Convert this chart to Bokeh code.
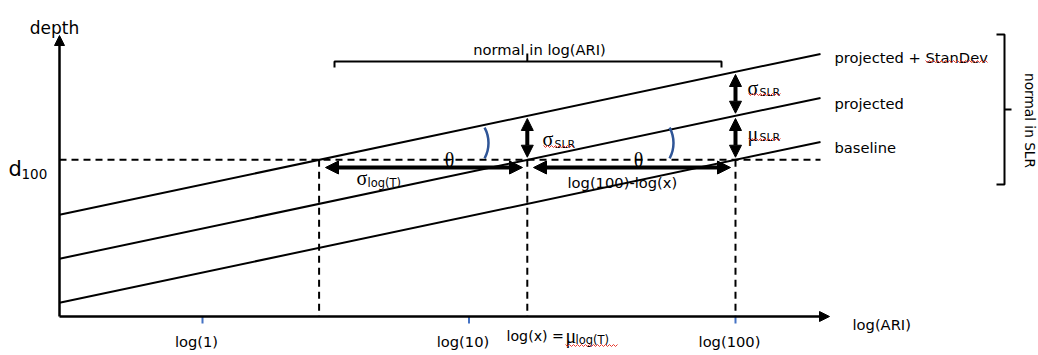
import math
import numpy as np
from bokeh.plotting import figure
from bokeh.models import Range1d, Arrow, NormalHead
from bokeh.core.properties import value
from bokeh.embed import file_html
from bokeh.resources import INLINE

# ---------------- diagram quantities (chart units) ----------------
ARI_TICKS = [1, 10, 100]
TICK_LABELS = ["log(1)", "log(10)", "log(100)"]
LINE_NAMES = ["baseline", "projected", "projected + StanDev"]
D100 = 3.56        # depth of the 100-yr ARI event (baseline curve)
SLOPE = 1.28       # depth gained per decade of ARI
MU_SLR = 1.0       # mean sea-level rise
SIGMA_SLR = 1.0    # standard deviation of sea-level rise
LINE_SHIFTS = [0.0, MU_SLR, MU_SLR + SIGMA_SLR]

# derived quantities
L100 = math.log10(100)
MU_LOGT = L100 - MU_SLR / SLOPE          # log(x) = mu_log(T)
SIG_LOGT = SIGMA_SLR / SLOPE             # sigma_log(T)
L_SIG = MU_LOGT - SIG_LOGT

# ---------------- canvas / ranges ----------------
W, H = 1038, 355
X0, X1 = -0.758, 3.137
Y0, Y1 = -0.886, 7.182


def XP(px):
    return X0 + np.asarray(px, dtype=float) * (X1 - X0) / W


def YP(py):
    return Y1 - np.asarray(py, dtype=float) * (Y1 - Y0) / H


FONT = "DejaVu Sans"
GREEK = "Liberation Serif"
BASE = "14.7px"
GSIZE = "20px"

p = figure(width=W, height=H, x_range=Range1d(X0, X1), y_range=Range1d(Y0, Y1),
           output_backend="svg", toolbar_location=None, x_axis_type=None,
           y_axis_type=None, min_border=0, min_border_left=0, min_border_right=0,
           min_border_top=0, min_border_bottom=0)
p.grid.visible = False
p.outline_line_color = None
p.background_fill_color = "white"
p.border_fill_color = "white"

XA = float(XP(59))     # origin of the hand-drawn axes
XE = float(XP(820))    # right end of the sloped lines
XT = float(XP(829))    # x-axis arrow tip
YT = float(YP(35))     # y-axis arrow tip

# ---------------- dashed reference lines ----------------
p.segment(x0=[XA], y0=[D100], x1=[XE], y1=[D100], line_color="black",
          line_width=2, line_dash="7 5")
vx = [L_SIG, MU_LOGT, L100]
p.segment(x0=vx, y0=[D100] * 3, x1=vx, y1=[0] * 3, line_color="black",
          line_width=2, line_dash="7 5")

# ---------------- sloped depth lines ----------------
xs = np.array([XA, XE])
for shift in LINE_SHIFTS:
    ys = D100 + SLOPE * (xs - L100) + shift
    p.line(xs, ys, line_color="black", line_width=2)

# ---------------- axes ----------------
p.add_layout(Arrow(end=NormalHead(size=10, fill_color="black", line_color="black"),
                   x_start=XA, y_start=0, x_end=XT, y_end=0,
                   line_color="black", line_width=2.5))
p.add_layout(Arrow(end=NormalHead(size=10, fill_color="black", line_color="black"),
                   x_start=XA, y_start=0, x_end=XA, y_end=YT,
                   line_color="black", line_width=2.5))

tick_x = [math.log10(a) for a in ARI_TICKS]
p.segment(x0=tick_x, y0=[0] * 3, x1=tick_x, y1=[float(YP(323))] * 3,
          line_color="#4472C4", line_width=2)


def darrow(x1, y1, x2, y2, size=13, lw=4):
    p.add_layout(Arrow(start=NormalHead(size=size, fill_color="black", line_color="black"),
                       end=NormalHead(size=size, fill_color="black", line_color="black"),
                       x_start=x1, y_start=y1, x_end=x2, y_end=y2,
                       line_color="black", line_width=lw))


# horizontal double arrows (sigma_log(T) and log(100)-log(x))
ya = float(YP(167))
darrow(float(XP(325)), ya, float(XP(522)), ya)
darrow(float(XP(533)), ya, float(XP(730)), ya)

# vertical double arrows between the sloped lines
g = 0.06
darrow(MU_LOGT, D100 + SIGMA_SLR - g, MU_LOGT, D100 + g, size=12)
darrow(L100, D100 + MU_SLR + SIGMA_SLR - g, L100, D100 + MU_SLR + g, size=12)
darrow(L100, D100 + MU_SLR - g, L100, D100 + g, size=12)

# angle arcs
p.arc(x=list(XP([456, 641])), y=list(YP([142.5, 142.5])), radius=32,
      radius_units="screen", start_angle=-0.5, end_angle=0.5,
      line_color="#2F5597", line_width=2.5)

# top brace: normal in log(ARI)
bx0, bx1 = float(XP(334)), float(XP(721))
by, bh, bt = float(YP(61)), float(YP(67)), float(YP(53))
p.line([bx0, bx0, bx1, bx1], [bh, by, by, bh], line_color="black", line_width=2)
p.line([MU_LOGT, MU_LOGT], [by, bt], line_color="black", line_width=2)

# right brace: normal in SLR
rx, rh, rt = float(XP(1004)), float(XP(996)), float(XP(1011))
ry0, ry1, ryc = float(YP(34)), float(YP(184)), float(YP(109))
p.line([rh, rx, rx, rh], [ry0, ry0, ry1, ry1], line_color="black", line_width=2)
p.line([rx, rt], [ryc, ryc], line_color="black", line_width=2)


# ---------------- texts ----------------
def txt(x, y, s, size=BASE, font=FONT, align="left", angle=0.0, x_offset=0):
    p.text(x=[float(x)], y=[float(y)], text=[s], text_font=value(font),
           text_font_size=size, text_align=align, text_baseline="alphabetic",
           angle=angle, x_offset=x_offset, text_color="black")


txt(XP(54), YP(27), "depth", size="17px", align="center")
txt(XP(8), YP(168), "d", size="21px")
txt(XP(21), YP(173), "100", size="13.5px")
txt(XP(539), YP(49), "normal in log(ARI)", align="center")

label_base = [147, 103, 57]
for name, yb in zip(LINE_NAMES, label_base):
    txt(XP(834), YP(yb), name)

txt(XP(1029), YP(120), "normal in SLR", size="13.7px", align="center",
    angle=-math.pi / 2)

txt(XP(852), YP(324), "log(ARI)")
for tx, lab in zip(tick_x, TICK_LABELS):
    txt(tx, YP(341), lab, align="center", x_offset=-6)

txt(XP(506), YP(335), "log(x) =", size="14.2px")
txt(XP(565), YP(335), "\u03bc", size=GSIZE, font=GREEK)
txt(XP(575), YP(339), "log(T)", size="11.5px")

txt(XP(356), YP(177), "\u03c3", size=GSIZE, font=GREEK)
txt(XP(367), YP(182), "log(T)", size="11.5px")
txt(XP(567), YP(182), "log(100)-log(x)")

txt(XP(542), YP(138.5), "\u03c3", size=GSIZE, font=GREEK)
txt(XP(554), YP(144), "SLR", size="11px")
txt(XP(747), YP(87.5), "\u03c3", size=GSIZE, font=GREEK)
txt(XP(759), YP(92), "SLR", size="11px")
txt(XP(747), YP(133), "\u03bc", size=GSIZE, font=GREEK)
txt(XP(759), YP(137), "SLR", size="11px")

txt(XP(449), YP(159), "\u03b8", size=GSIZE, font=GREEK, align="center")
txt(XP(638), YP(159), "\u03b8", size=GSIZE, font=GREEK, align="center")


# spell-check squiggles
def squiggle(xl, xr, yc):
    n = int((xr - xl) / 2) + 1
    k = np.arange(n)
    xs_px = xl + 2 * k
    ys_px = yc + np.where(k % 2 == 0, -1.0, 1.0)
    p.line(XP(xs_px), YP(ys_px), line_color="#E8392E", line_width=1)


squiggle(925, 988, 61)
squiggle(543, 574, 146)
squiggle(748, 780, 94)
squiggle(748, 780, 139)
squiggle(565, 617, 345)

open("out.html", "w").write(file_html(p, INLINE))
